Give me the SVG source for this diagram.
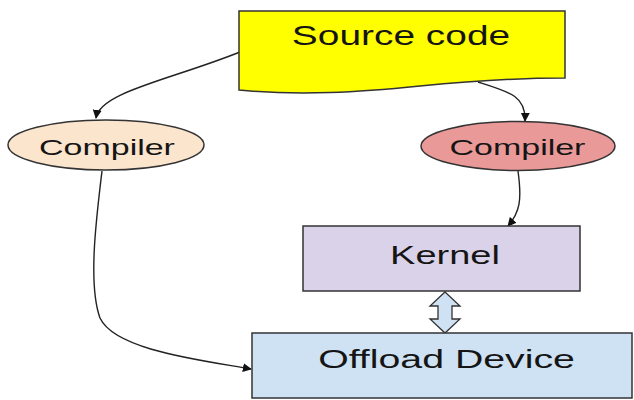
<svg xmlns="http://www.w3.org/2000/svg" width="634" height="400" viewBox="0 0 634 400">
<style>
.t{font-family:"Liberation Sans",Arial,sans-serif;fill:#151515;text-anchor:middle}
.n{stroke:#333;stroke-width:1.5}
.c{fill:none;stroke:#222;stroke-width:1.4}
</style>
<defs>
<marker id="ah" viewBox="0 0 10 10" refX="9" refY="5" markerWidth="9" markerHeight="9" markerUnits="userSpaceOnUse" orient="auto">
<path d="M0,0 L10,5 L0,10 z" fill="#111"/>
</marker>
</defs>
<rect width="634" height="400" fill="#fff"/>
<g id="connectors">
<path class="c" d="M240,52 C170,80 100,92 96,118" marker-end="url(#ah)"/>
<path class="c" d="M478,82 C510,92 526,96 525,121" marker-end="url(#ah)"/>
<path class="c" d="M518,171 C522,200 520,212 508,226" marker-end="url(#ah)"/>
<path class="c" d="M102,171 C96,220 88,285 100,318 C115,350 200,360 251,369" marker-end="url(#ah)"/>
<path id="dbl" d="M445,292 L460,306 L452,306 L452,319 L460,319 L445,333 L430,319 L438,319 L438,306 L430,306 Z" fill="#cfe2f3" stroke="#333" stroke-width="1.3"/>
</g>
<g id="source">
<path class="n" d="M239,11 L565,11 L565,78 C520,78 480,80 420,86 C360,92 300,96 239,90 Z" fill="#ffff00"/>
<text class="t" font-size="27" transform="translate(401,44.5) scale(1.44,1)">Source code</text>
</g>
<g id="compiler1">
<ellipse class="n" cx="106" cy="145" rx="98" ry="25" fill="#fce5cd"/>
<text class="t" font-size="22.5" transform="translate(107,154.5) scale(1.51,1)">Compiler</text>
</g>
<g id="compiler2">
<ellipse class="n" cx="518" cy="146" rx="97" ry="24.5" fill="#ea9999"/>
<text class="t" font-size="22.5" transform="translate(517.5,155) scale(1.51,1)">Compiler</text>
</g>
<g id="kernel">
<rect class="n" x="303" y="226" width="277" height="65" fill="#d9d2e9"/>
<text class="t" font-size="25.5" transform="translate(445,263.5) scale(1.49,1)">Kernel</text>
</g>
<g id="offload">
<rect class="n" x="252" y="333" width="380" height="65" fill="#cfe2f3"/>
<text class="t" font-size="25.5" transform="translate(446.5,368) scale(1.54,1)">Offload Device</text>
</g>
</svg>
